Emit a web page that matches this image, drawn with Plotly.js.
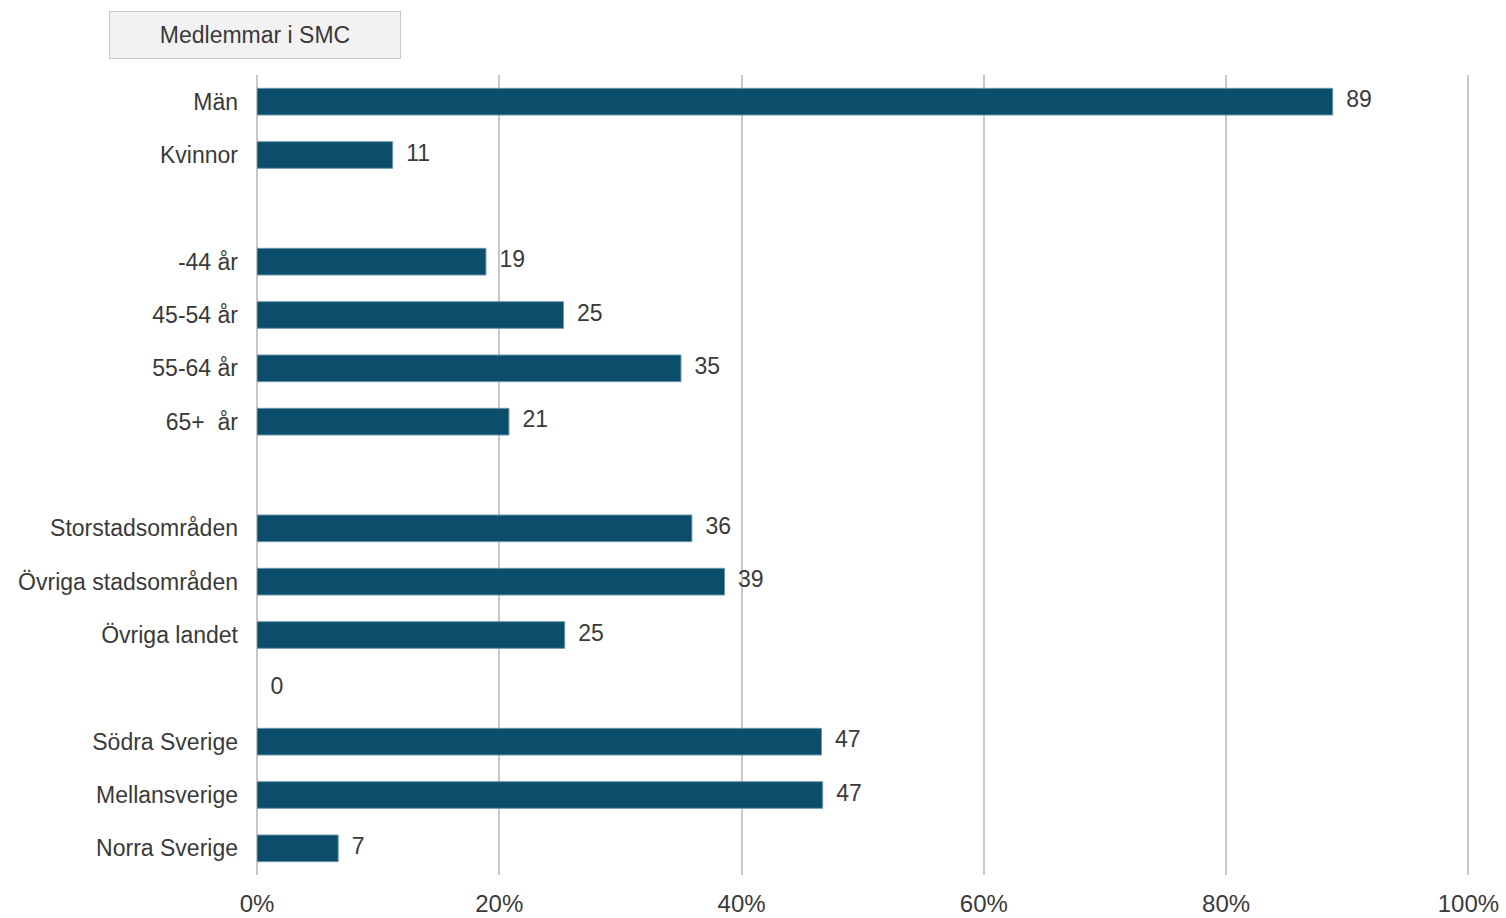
<!DOCTYPE html>
<html>
<head>
<meta charset="utf-8">
<script src="https://cdn.plot.ly/plotly-3.0.1.min.js"></script>
<style>html,body{margin:0;padding:0;background:#fff;}#chart{width:1506px;height:918px;}</style>
</head>
<body>
<div id="chart"></div>
<script>
// Categories (blank spacer rows use distinct whitespace names)
const categories = ["Män", "Kvinnor", " ", "-44 år", "45-54 år", "55-64 år", "65+ \u00a0år", "  ",
  "Storstadsområden", "Övriga stadsområden", "Övriga landet", "   ",
  "Södra Sverige", "Mellansverige", "Norra Sverige"];
// Share of members (%), null = empty spacer row
const values = [88.8, 11.2, null, 18.9, 25.3, 35.0, 20.8, null,
  35.9, 38.6, 25.4, 0, 46.6, 46.7, 6.7];
const seriesName = "Medlemmar i SMC";
const xTickVals = [0, 20, 40, 60, 80, 100];
const xTickText = ["0%", "20%", "40%", "60%", "80%", "100%"];

const labels = values.map(v => v === null ? "" : String(Math.round(v)));
const lineWidths = values.map(v => (v ? 1 : 0));

const font = "Liberation Sans, Arial, sans-serif";
const textColor = "#3a3a3a";

const bars = {
  type: "bar",
  orientation: "h",
  name: seriesName,
  y: categories,
  x: values,
  width: 0.5,
  marker: {color: "#0b4d6a", line: {color: "#6b97ab", width: lineWidths}},
  hoverinfo: "x+y",
  showlegend: false
};
const valueLabels = {
  type: "scatter",
  mode: "markers+text",
  y: categories,
  x: values,
  text: labels,
  textposition: "middle right",
  textfont: {family: font, size: 23, color: textColor},
  marker: {size: 20, opacity: 0},
  hoverinfo: "skip",
  showlegend: false,
  cliponaxis: false
};

const layout = {
  width: 1506,
  height: 918,
  margin: {l: 257, r: 34, t: 75, b: 43},
  paper_bgcolor: "#ffffff",
  plot_bgcolor: "#ffffff",
  font: {family: font, color: textColor, size: 23},
  showlegend: false,
  xaxis: {
    range: [0, 100.3],
    tickvals: xTickVals,
    ticktext: xTickText,
    showgrid: true,
    gridcolor: "#c8c8c8",
    gridwidth: 2,
    zeroline: true,
    zerolinecolor: "#c8c8c8",
    zerolinewidth: 2,
    showline: false,
    ticks: "",
    ticklabelstandoff: 12,
    tickfont: {family: font, size: 24, color: textColor},
    fixedrange: true
  },
  yaxis: {
    type: "category",
    categoryorder: "array",
    categoryarray: categories,
    range: [categories.length - 0.5, -0.5],
    showgrid: false,
    zeroline: false,
    showline: false,
    ticks: "",
    ticklabelstandoff: 18,
    tickfont: {family: font, size: 23, color: textColor},
    fixedrange: true
  },
  annotations: [{
    xref: "paper", yref: "paper",
    x: (255 - 257) / 1214, y: (875 - 35) / 800,
    xanchor: "center", yanchor: "middle",
    text: seriesName,
    showarrow: false,
    width: 290, height: 46,
    bgcolor: "#f2f2f2",
    bordercolor: "#c8c8c8",
    borderwidth: 1,
    borderpad: 0,
    font: {family: font, size: 23, color: textColor}
  }]
};

Plotly.newPlot("chart", [bars, valueLabels], layout, {displayModeBar: false, staticPlot: true});
</script>
</body>
</html>
